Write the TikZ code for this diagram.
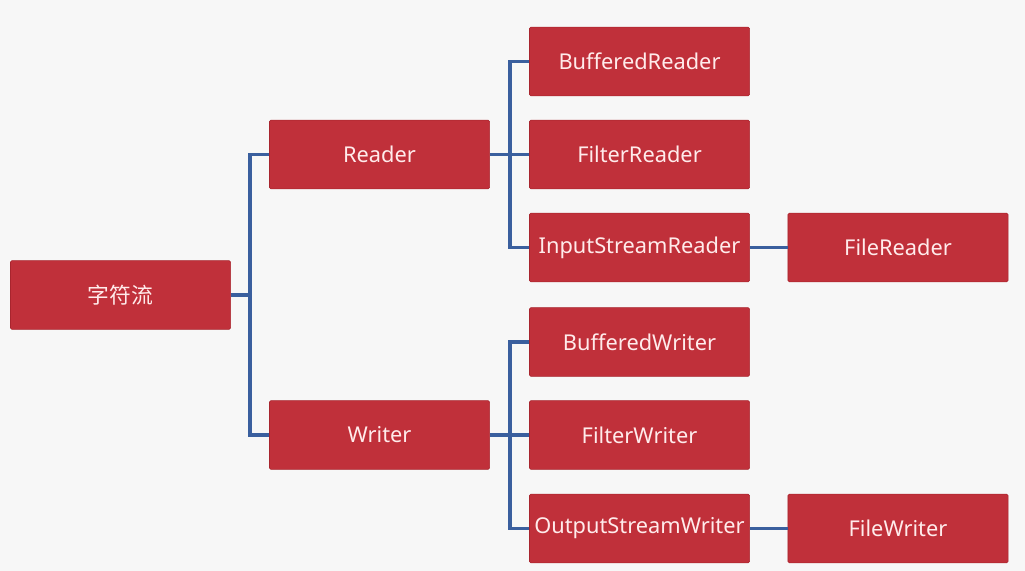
\documentclass[tikz,border=0pt]{standalone}
\usepackage{fontspec}
\setmainfont{Noto Sans}
\newfontfamily\cjk{Noto Sans CJK SC}
\usetikzlibrary{positioning}
\definecolor{boxred}{HTML}{C0303A}
\definecolor{boxedge}{HTML}{A8252E}
\definecolor{linkblue}{HTML}{3A5F9E}
\definecolor{bgpaper}{HTML}{F7F7F7}

\begin{document}
\begin{tikzpicture}[x=0.025cm, y=-0.025cm,
  cls/.style={rectangle, rounded corners=1pt, fill=boxred, draw=boxedge,
    minimum width=5.5cm, minimum height=1.72cm, inner sep=0pt,
    text=white!92!red, font=\fontsize{15.5}{18}\selectfont},
  link/.style={draw=linkblue, line width=2.6pt}]

  % --- 1. background ---
  \fill[bgpaper] (0,0) rectangle (1025,571);

  % --- 2. boxes ---
  \node[cls] (root) at (120.5,295) {\cjk 字符流};
  \node[cls] (reader) at (379.5,154.5) {Reader};
  \node[cls] (writer) at (379.5,435) {Writer};

  \node[cls] (bufreader) at (639.5,61.5) {BufferedReader};
  \node[cls] (filtreader) at (639.5,154.5) {FilterReader};
  \node[cls] (isreader) at (639.5,247.5) {InputStreamReader};
  \node[cls] (filereader) at (898,247.5) {FileReader};

  \node[cls] (bufwriter) at (639.5,342) {BufferedWriter};
  \node[cls] (filtwriter) at (639.5,435) {FilterWriter};
  \node[cls] (oswriter) at (639.5,528.5) {OutputStreamWriter};
  \node[cls] (filewriter) at (898,528.5) {FileWriter};

  % --- 3. junction points ---
  \coordinate (j0) at (250,295);
  \coordinate (j1) at (510,154.5);
  \coordinate (j2) at (510,435);

  % --- 4. connectors ---
  \draw[link] (root.east) -- (j0) |- (reader.west);
  \draw[link] (j0) |- (writer.west);

  \draw[link] (reader.east) -- (filtreader.west);
  \draw[link] (j1) |- (bufreader.west);
  \draw[link] (j1) |- (isreader.west);
  \draw[link] (isreader.east) -- (filereader.west);

  \draw[link] (writer.east) -- (filtwriter.west);
  \draw[link] (j2) |- (bufwriter.west);
  \draw[link] (j2) |- (oswriter.west);
  \draw[link] (oswriter.east) -- (filewriter.west);

\end{tikzpicture}
\end{document}
